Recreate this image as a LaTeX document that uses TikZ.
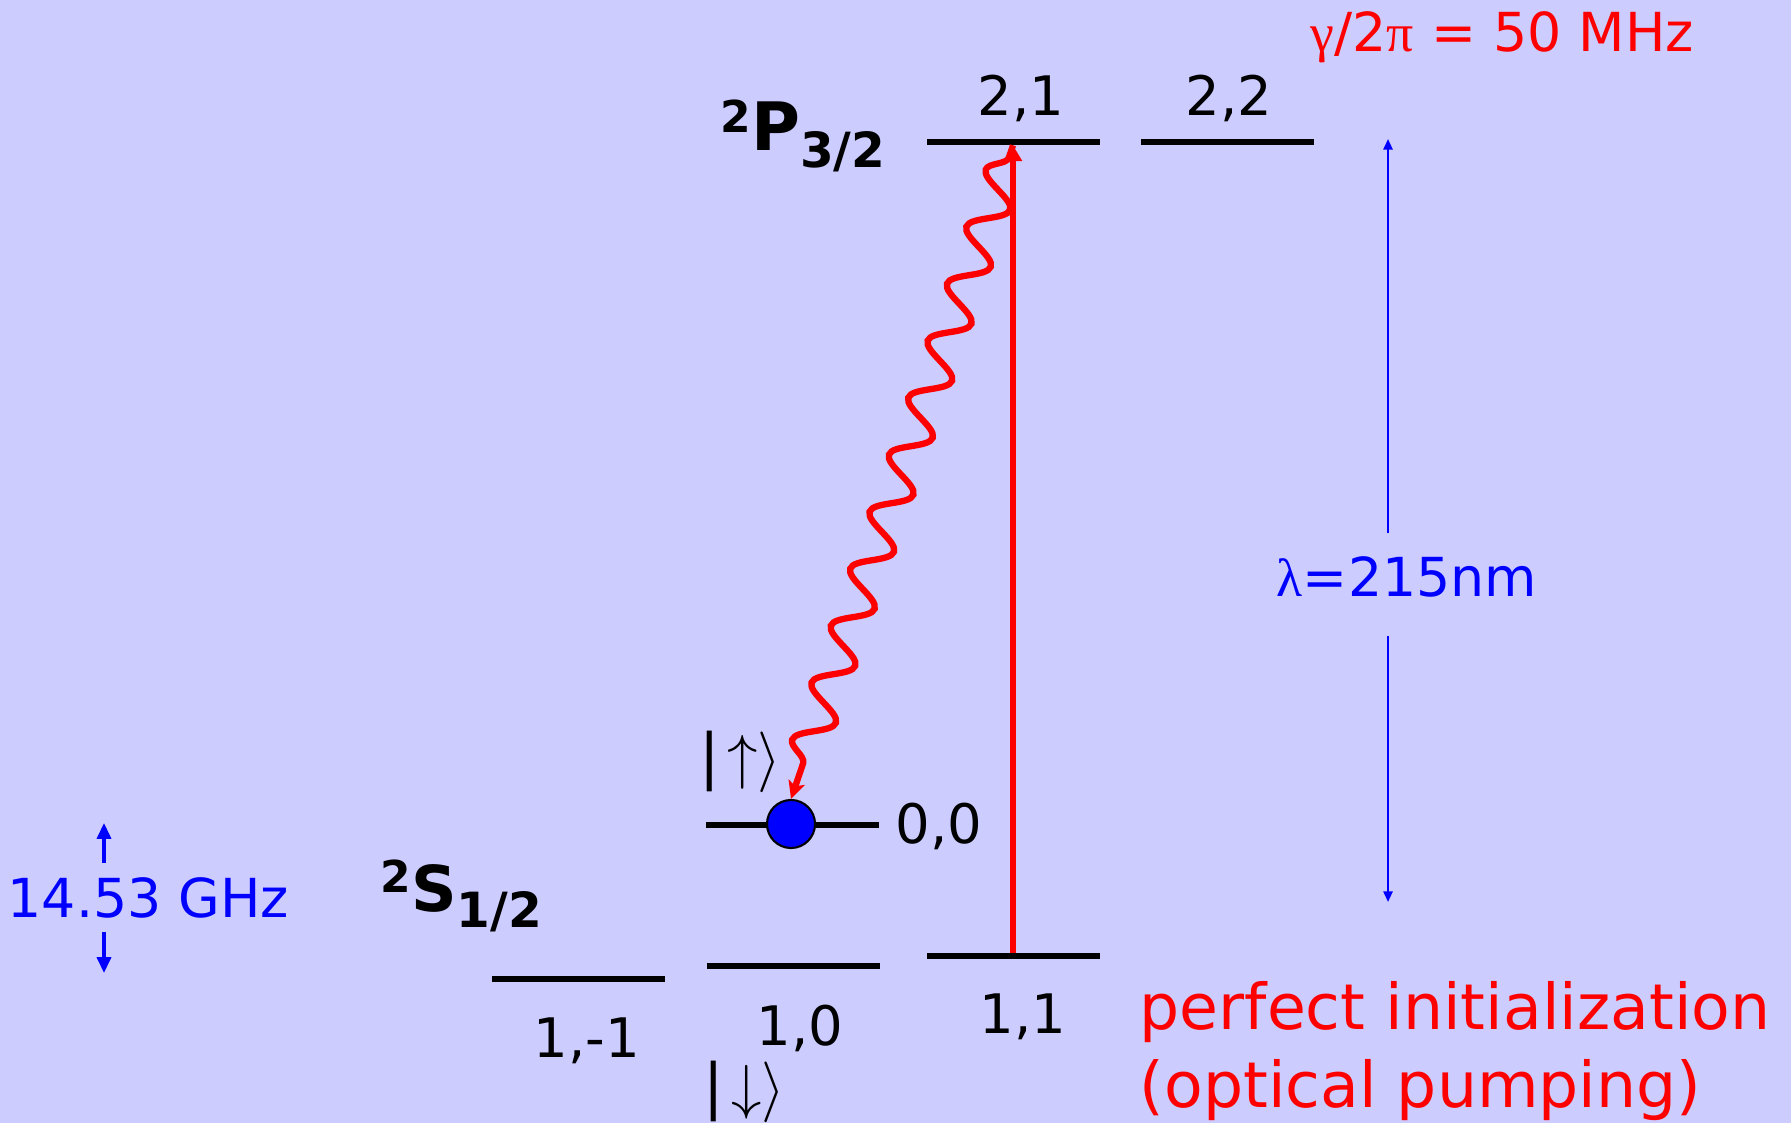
\documentclass[tikz,border=0pt]{standalone}
\usepackage{fontspec}
\setmainfont{DejaVu Sans}
\newfontfamily\greekfont{Liberation Serif}
\usetikzlibrary{arrows.meta,decorations.pathmorphing}
\definecolor{slidebg}{RGB}{204,204,255}
\newcommand{\supfig}{\fontsize{12.5}{14}\selectfont}
\newcommand{\subfig}{\fontsize{13.8}{16}\selectfont}
\newcommand{\levelterm}[2]{\raisebox{5.2pt}{\supfig 2}#1\raisebox{-4.7pt}{\subfig #2}}

\begin{document}
\begin{tikzpicture}[
  level/.style={fill=black, inner sep=0pt, minimum width=1.73cm, minimum height=1.5pt},
  qnum/.style={font=\fontsize{15.5}{18}\selectfont, inner sep=0pt, anchor=base},
  ket/.style={font=\fontsize{17.28}{20}\selectfont, inner sep=0pt, anchor=base west},
  note/.style={font=\fontsize{15.3}{18}\selectfont, blue, inner sep=0pt},
  pump/.style={red, line width=1.7pt, -{Triangle[length=4.5pt,width=5pt]}},
  photon/.style={red, line width=1.8pt, -{Stealth[length=5pt,width=4.8pt,inset=1.2pt]},
    decorate, decoration={snake, segment length=6.02mm, amplitude=1.8mm,
    pre length=1.3mm, post length=2mm, mirror}},
  span/.style={blue, line width=0.6pt, -{Triangle[length=3pt,width=2.6pt]}},
  gap/.style={blue, line width=0.9pt, -{Triangle[length=4.5pt,width=4pt]}}
]
  % Background
  \useasboundingbox (0,0) rectangle (17.91,11.23);
  \fill[slidebg] (0,0) rectangle (17.91,11.23);

  % Levels
  \node[level] (l21) at (10.13, 9.81) {};
  \node[level] (l22) at (12.27, 9.81) {};
  \node[level] (l00) at (7.925, 2.98) {};
  \node[level] (l1m) at (5.78, 1.44) {};
  \node[level] (l10) at (7.935, 1.57) {};
  \node[level] (l11) at (10.13, 1.67) {};

  % Term symbols
  \node[font=\fontsize{19}{22}\selectfont\bfseries, inner sep=0pt, anchor=base west]
    (p32) at (7.20, 9.72) {\levelterm{P}{3/2}};
  \node[font=\fontsize{18}{22}\selectfont\bfseries, inner sep=0pt, anchor=base west]
    (s12) at (3.80, 2.12) {\levelterm{S}{1/2}};

  % Quantum numbers
  \node[qnum] (n21) at (10.21, 10.07) {2,1};
  \node[qnum] (n22) at (12.29, 10.07) {2,2};
  \node[qnum, anchor=base west] (n00) at (8.95, 2.80) {0,0};
  \node[qnum] (n1m) at (5.87, 0.66) {1,-1};
  \node[qnum] (n10) at (8.00, 0.78) {1,0};
  \node[qnum] (n11) at (10.23, 0.90) {1,1};

  % Qubit states
  \node[ket] (up) at (6.99, 3.46) {|\kern2pt$\uparrow\rangle$};
  \node[ket] (down) at (7.03, 0.16) {|\kern2pt$\downarrow\rangle$};

  % Ion
  \node[circle, fill=blue, draw=black, line width=0.6pt, minimum size=0.48cm, inner sep=0pt]
    (ion) at (7.91, 2.99) {};

  % Pumping and decay
  \draw[pump] (l11.north) -- (l21.south);
  \draw[photon] (l21.south) -- (ion.north);

  % Wavelength
  \node[note, anchor=base, inner ysep=5.4pt] (lambda) at (14.07, 5.26) {\strut{\greekfont λ}=215nm};
  \coordinate (lamtop) at (13.88, 9.84);
  \coordinate (lambot) at (13.88, 2.21);
  \draw[span] (lambda.north -| lamtop) -- (lamtop);
  \draw[span] (lambda.south -| lambot) -- (lambot);

  % Hyperfine splitting
  \node[note, anchor=base west, inner ysep=3.8pt] (ghz) at (0.07, 2.06) {14.53 GHz};
  \coordinate (ghzup) at (1.04, 3.00);
  \coordinate (ghzdown) at (1.04, 1.50);
  \draw[gap] (ghz.north -| ghzup) -- (ghzup);
  \draw[gap] (ghz.south -| ghzdown) -- (ghzdown);

  % Linewidth
  \node[font=\fontsize{15.3}{18}\selectfont, red, inner sep=0pt, anchor=base west]
    (rate) at (13.10, 10.71) {{\greekfont γ}/2{\greekfont π} = 50 MHz};

  % Comment
  \node[font=\fontsize{18}{22}\selectfont, red, inner sep=0pt, anchor=base west, align=left]
    (init) at (11.39, 0.16) {perfect initialization\\(optical pumping)};
\end{tikzpicture}
\end{document}
